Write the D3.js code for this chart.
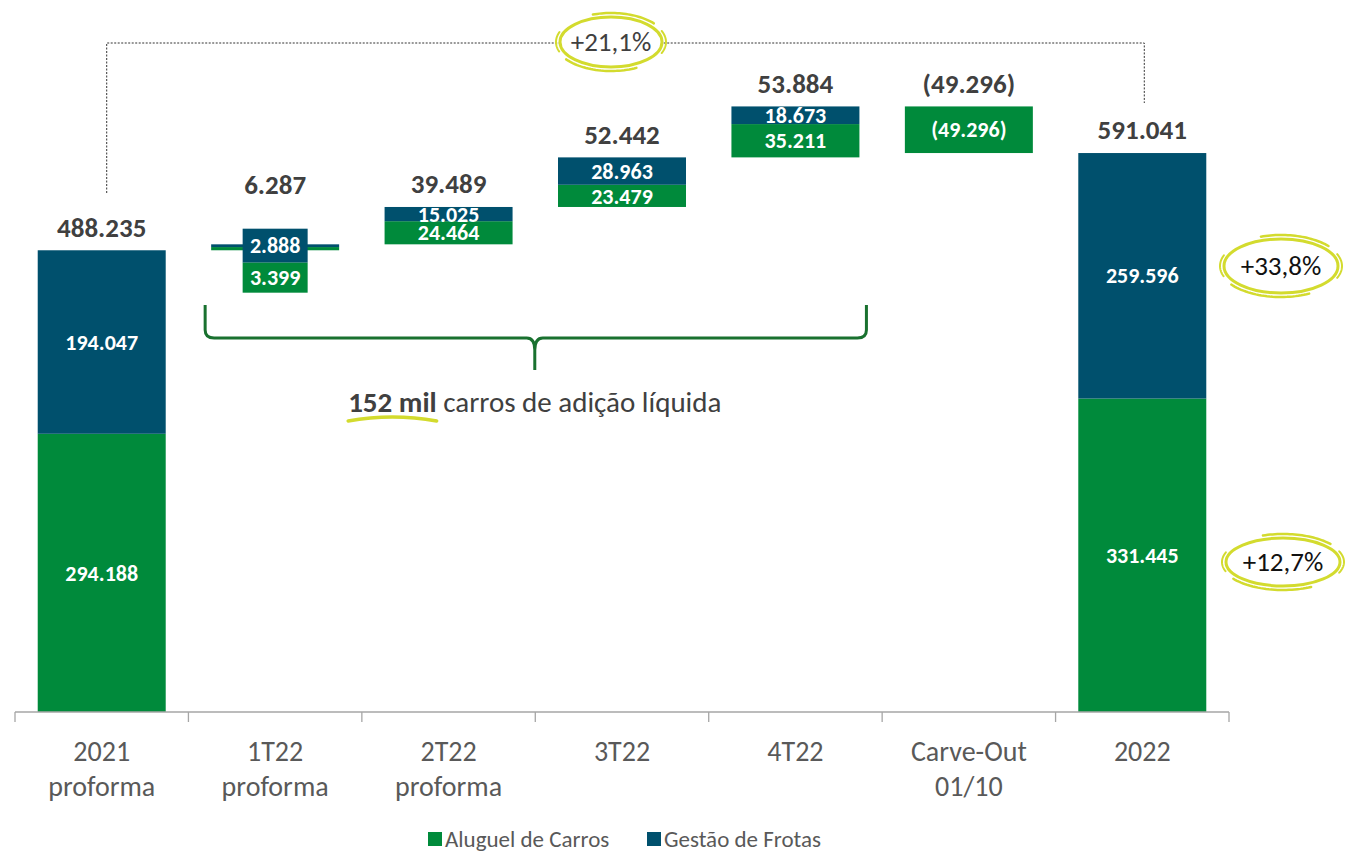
<!DOCTYPE html>
<html><head><meta charset="utf-8">
<script src="https://cdn.jsdelivr.net/npm/d3@7"></script>
<style>
body{margin:0;background:#fff;}
svg{display:block;font-family:Carlito, Lato, "Open Sans", sans-serif;}
</style></head>
<body><svg id="chart" width="1349" height="853"></svg>
<script>
const categories = [["2021","proforma"],["1T22","proforma"],["2T22","proforma"],["3T22"],["4T22"],["Carve-Out","01/10"],["2022"]];
const kinds = ["total","delta","delta","delta","delta","delta","total"];
const aluguel = [294188, 3399, 24464, 23479, 35211, -49296, 331445];
const gestao = [194047, 2888, 15025, 28963, 18673, 0, 259596];
const aluguelLabels = ["294.188","3.399","24.464","23.479","35.211","(49.296)","331.445"];
const gestaoLabels = ["194.047","2.888","15.025","28.963","18.673","","259.596"];
const totalLabels = ["488.235","6.287","39.489","52.442","53.884","(49.296)","591.041"];
const seriesNames = ["Aluguel de Carros","Gestão de Frotas"];
const growthLabels = ["+21,1%","+33,8%","+12,7%"];
const braceText = ["152 mil"," carros de adição líquida"];

const GREEN="#008A3B", BLUE="#00506D", LIME="#D3DB2E", TXT="#404040", AX="#595959";
const svg=d3.select("#chart");
const x=d3.scaleBand().domain(d3.range(categories.length)).range([15,1229]).paddingInner(0.262).paddingOuter(0.131);
const y=d3.scaleLinear().domain([0,700000]).range([712,50]);

let cum=0; const bars=[];
categories.forEach((c,i)=>{
  let base = kinds[i]==="total"?0:cum;
  let g0=base, g1=base+aluguel[i];
  let b0=g1, b1=g1+gestao[i];
  bars.push({i,g0,g1,b0,b1});
  cum = b1;
});

const g=svg.append("g");
bars.forEach(b=>{
  const x0=x(b.i), w=x.bandwidth();
  g.append("rect").attr("x",x0).attr("width",w)
    .attr("y",y(Math.max(b.g0,b.g1))).attr("height",Math.abs(y(b.g0)-y(b.g1))).attr("fill",GREEN);
  if(gestao[b.i]!==0) g.append("rect").attr("x",x0).attr("width",w)
    .attr("y",y(b.b1)).attr("height",y(b.b0)-y(b.b1)).attr("fill",BLUE);
});

const lab=svg.append("g").attr("font-weight","bold").attr("font-size",22).attr("fill","#fff").attr("text-anchor","middle");
bars.forEach(b=>{
  const cx=x(b.i)+x.bandwidth()/2;
  const gh=Math.abs(y(b.g0)-y(b.g1));
  let topY=Math.min(y(b.g1),y(b.g0),y(b.b1));
  if(gh<10 && gestao[b.i]){
    const bc=(y(b.b0)+y(b.b1))/2;
    const bw=65;
    g.append("rect").attr("x",cx-bw/2).attr("y",bc-17).attr("width",bw).attr("height",34).attr("fill",BLUE);
    g.append("rect").attr("x",cx-bw/2).attr("y",bc+17).attr("width",bw).attr("height",30).attr("fill",GREEN);
    lab.append("text").attr("x",cx).attr("y",bc).attr("dy","0.35em").text(gestaoLabels[b.i]);
    lab.append("text").attr("x",cx).attr("y",bc+32).attr("dy","0.35em").text(aluguelLabels[b.i]);
    topY=bc-17-21;
  } else {
    lab.append("text").attr("x",cx).attr("y",(y(b.g0)+y(b.g1))/2).attr("dy","0.35em").text(aluguelLabels[b.i]);
    if(gestao[b.i]) lab.append("text").attr("x",cx).attr("y",(y(b.b0)+y(b.b1))/2).attr("dy","0.35em").text(gestaoLabels[b.i]);
  }
  svg.append("text").attr("x",cx).attr("y",topY-23).attr("dy","0.35em").attr("text-anchor","middle")
    .attr("font-size",27).attr("font-weight","bold").attr("fill",TXT).text(totalLabels[b.i]);
});

const ax=svg.append("g").attr("transform","translate(0,712)");
ax.append("line").attr("x1",15).attr("x2",1229).attr("stroke","#a6a6a6").attr("stroke-width",1.3);
d3.range(categories.length+1).forEach(k=>{
  const tx = k<categories.length? x(k)-x.step()*x.paddingInner()/2 : 1229;
  ax.append("line").attr("x1",tx).attr("x2",tx).attr("y1",0).attr("y2",10).attr("stroke","#a6a6a6").attr("stroke-width",1.3);
});
categories.forEach((c,i)=>{
  const t=ax.append("text").attr("x",x(i)+x.bandwidth()/2).attr("y",49).attr("text-anchor","middle").attr("font-size",28).attr("fill",AX);
  c.forEach((l,j)=>t.append("tspan").attr("x",x(i)+x.bandwidth()/2).attr("dy",j?35:0).text(l));
});

const lx=x(0)+x.bandwidth()/2+5, rx=x(6)+x.bandwidth()/2+2;
svg.append("path").attr("d",`M${lx},193 V43 H${rx} V103`).attr("fill","none").attr("stroke","#333").attr("stroke-width",1).attr("stroke-dasharray","2,1.5");

function swoosh(cx,cy,rx,ry,label,fs,col){
  const s=svg.append("g");
  s.append("ellipse").attr("cx",cx).attr("cy",cy).attr("rx",rx-5).attr("ry",ry-4).attr("fill","#fff").attr("stroke",LIME).attr("stroke-width",3);
  const arc=(a0,a1,dr,sw)=>{
    const pts=d3.range(a0,a1+0.001,(a1-a0)/30).map(a=>[cx+(rx+dr)*Math.cos(a),cy+(ry+dr*0.6)*Math.sin(a)]);
    s.append("path").attr("d",d3.line()(pts)).attr("fill","none").attr("stroke",LIME).attr("stroke-width",sw).attr("stroke-linecap","round");
  };
  arc(-1.9,-0.7,0,2.5); arc(-0.4,0.4,-1,2); arc(1.1,2.5,0,2.5); arc(2.8,3.5,-1,2);
  s.append("text").attr("x",cx).attr("y",cy).attr("dy","0.35em").attr("text-anchor","middle").attr("font-size",fs).attr("fill",col).text(label);
}
swoosh(611,42,56,29,growthLabels[0],27,TXT);
swoosh(1281,266,62,31,growthLabels[1],27,"#111");
swoosh(1283,562,62,28,growthLabels[2],27,"#111");

const bl=x(1)-6, br=x(4)+x.bandwidth()+7, bm=(bl+br)/2-1;
svg.append("path").attr("d",`M${bl},305 V330 Q${bl},338 ${bl+9},338 H${bm-8} Q${bm},338 ${bm},350 V370 M${bm},350 Q${bm},338 ${bm+8},338 H${br-9} Q${br},338 ${br},330 V305`)
  .attr("fill","none").attr("stroke","#19712F").attr("stroke-width",3);
const bt=svg.append("text").attr("x",bm).attr("y",402).attr("dy","0.35em").attr("text-anchor","middle").attr("font-size",29).attr("fill",TXT);
bt.append("tspan").attr("font-weight","bold").text(braceText[0]);
bt.append("tspan").text(braceText[1]);
const bb=bt.node().getBBox();
const tmp=svg.append("text").attr("font-size",29).attr("font-weight","bold").text(braceText[0]);
const bw0=tmp.node().getBBox().width; tmp.remove();
svg.append("path").attr("d",`M${bb.x},421 Q${bb.x+bw0/2},413 ${bb.x+bw0},421`).attr("fill","none").attr("stroke",LIME).attr("stroke-width",3.5).attr("stroke-linecap","round");

const lg=svg.append("g").attr("font-size",23).attr("fill",AX);
[[GREEN,428],[BLUE,647]].forEach((d,k)=>{
  lg.append("rect").attr("x",d[1]).attr("y",832).attr("width",14).attr("height",14).attr("fill",d[0]);
  lg.append("text").attr("x",d[1]+17).attr("y",839).attr("dy","0.35em").text(seriesNames[k]);
});
</script></body></html>
